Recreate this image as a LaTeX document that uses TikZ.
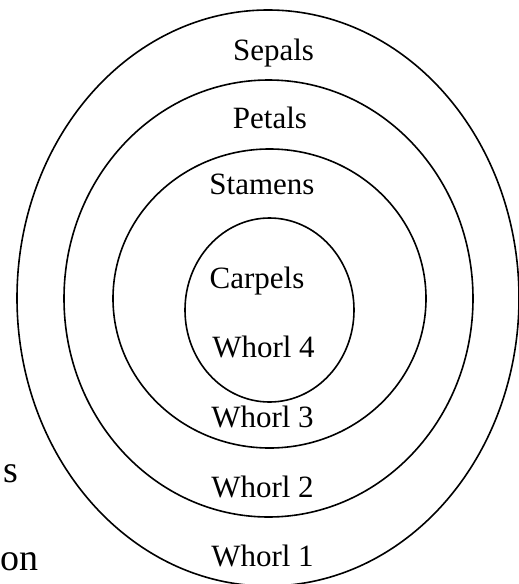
\documentclass[tikz,border=0pt]{standalone}
\usepackage{fontspec}
\setmainfont{Liberation Serif}
\begin{document}
\begin{tikzpicture}[x=1pt,y=-1pt,
  ring/.style={draw=black,line width=1.6pt},
  lab/.style={anchor=base,inner sep=0pt,font=\fontsize{31}{31}\selectfont},
  side/.style={anchor=base west,inner sep=0pt,font=\fontsize{38}{38}\selectfont}]
\useasboundingbox (0,0) rectangle (519,584);
\clip (0,0) rectangle (519,584);
\fill[white] (0,0) rectangle (519,584);
% whorl boundaries
\draw[ring] (268,298) ellipse [x radius=251, y radius=288];
\draw[ring] (268.5,298.5) ellipse [x radius=204.5, y radius=218.5];
\draw[ring] (269.5,298.5) ellipse [x radius=156.5, y radius=149.5];
\draw[ring] (269.5,310) ellipse [x radius=84.5, y radius=92];
% labels
\node[lab] (sepals) at (273.5,60) {Sepals};
\node[lab] (petals) at (270,128) {Petals};
\node[lab] (stamens) at (262,194) {Stamens};
\node[lab] (carpels) at (257,288) {Carpels};
\node[lab] (w4) at (263.5,357) {Whorl 4};
\node[lab] (w3) at (262.5,427) {Whorl 3};
\node[lab] (w2) at (262.5,497) {Whorl 2};
\node[lab] (w1) at (262.5,566) {Whorl 1};
% side text fragments
\node[side] (t2) at (3,482) {s};
\node[side] (t3) at (0.5,570) {on};
\end{tikzpicture}
\end{document}
